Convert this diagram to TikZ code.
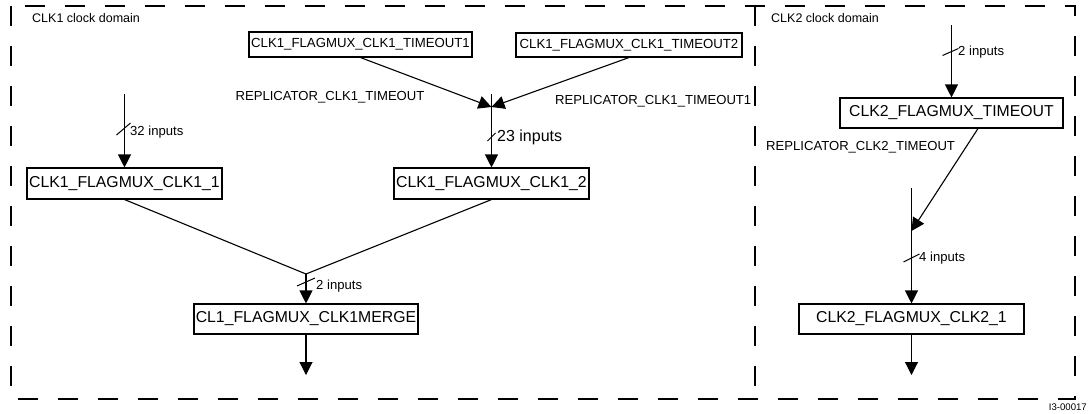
\documentclass[tikz,border=0pt]{standalone}
\usepackage{fontspec}
\setmainfont{Liberation Sans}
\usetikzlibrary{arrows.meta}
\tikzset{
  frame/.style={line width=1.3pt, dash pattern=on 20pt off 20pt},
  conn/.style={line width=1.1pt},
  arr/.style={conn, -{Triangle[width=13pt,length=13pt]}},
  bigbox/.style={draw, line width=1.1pt, inner sep=0pt, font=\fontsize{15.8}{18}\selectfont},
  smallbox/.style={draw, line width=1.1pt, inner sep=0pt, font=\fontsize{13.2}{15}\selectfont},
  lbl/.style={inner sep=0pt, font=\fontsize{13.1}{15}\selectfont},
  slash/.style={line width=1pt},
}
\begin{document}
\begin{tikzpicture}[x=1pt,y=-1pt]
\useasboundingbox (0,0) rectangle (1088,413);
% frames
\draw[frame] (11,6) rectangle (1075,399);
\draw[frame] (755,6) -- (755,399);
\node[lbl, anchor=west, font=\fontsize{12.5}{14}\selectfont] (d1) at (32,18) {CLK1 clock domain};
\node[lbl, anchor=west, font=\fontsize{12.5}{14}\selectfont] (d2) at (771,18) {CLK2 clock domain};
\node[lbl, anchor=east, font=\fontsize{9.6}{11}\selectfont] (fig) at (1087,407.5) {I3-00017};

% boxes
\node[smallbox, minimum width=223pt, minimum height=25pt] (t1) at (360.5,44.5) {CLK1\_FLAGMUX\_CLK1\_TIMEOUT1};
\node[smallbox, minimum width=226pt, minimum height=24pt] (t2) at (629,45) {CLK1\_FLAGMUX\_CLK1\_TIMEOUT2};
\node[bigbox, minimum width=195pt, minimum height=31pt] (m1) at (124.5,183.5) {CLK1\_FLAGMUX\_CLK1\_1};
\node[bigbox, minimum width=195pt, minimum height=31pt] (m2) at (491.5,183.5) {CLK1\_FLAGMUX\_CLK1\_2};
\node[bigbox, minimum width=224pt, minimum height=30pt] (mg) at (306,319) {CL1\_FLAGMUX\_CLK1MERGE};
\node[bigbox, minimum width=223pt, minimum height=30pt] (c2t) at (951.5,113) {CLK2\_FLAGMUX\_TIMEOUT};
\node[bigbox, minimum width=225pt, minimum height=30pt] (c21) at (911.5,319) {CLK2\_FLAGMUX\_CLK2\_1};

% replicator labels
\node[lbl] (r1) at (330,97) {REPLICATOR\_CLK1\_TIMEOUT};
\node[lbl, anchor=west] (r2) at (555,101) {REPLICATOR\_CLK1\_TIMEOUT1};
\node[lbl, anchor=west] (r3) at (766,147) {REPLICATOR\_CLK2\_TIMEOUT};

% coordinates
\coordinate (in1) at (124.5,94);
\coordinate (j1top) at (491.5,94);
\coordinate (j1) at (491.5,107);
\coordinate (j2) at (306,274);
\coordinate (out1) at (306,375);
\coordinate (in3) at (951.5,25);
\coordinate (j3top) at (911.5,188);
\coordinate (j3) at (911.5,231);
\coordinate (out2) at (911.5,375);
\coordinate (s1) at (124.5,130);
\coordinate (s2) at (491.5,137);
\coordinate (s3) at (306,282);
\coordinate (s4) at (951.5,52);
\coordinate (s5) at (911.5,258);

% CLK1 connectors
\draw[arr] (in1) -- (m1.north);
\draw[arr] (t1.south) -- (j1);
\draw[arr] (t2.south) -- (j1);
\draw[arr] (j1top) -- (m2.north);
\draw[conn] (m1.south) -- (j2);
\draw[conn] (m2.south) -- (j2);
\draw[arr] (j2) -- (mg.north);
\draw[arr] (mg.south) -- (out1);

% CLK2 connectors
\draw[arr] (in3) -- (c2t.north);
\draw[arr] ([xshift=26.5pt]c2t.south) -- (j3);
\draw[arr] (j3top) -- (c21.north);
\draw[arr] (c21.south) -- (out2);

% bus slashes
\draw[slash] ([shift={(-8,5)}]s1) -- ([shift={(6,-7)}]s1);
\draw[slash] ([shift={(-4,4)}]s2) -- ([shift={(4,-4)}]s2);
\draw[slash] ([shift={(-9,4)}]s3) -- ([shift={(9,-4)}]s3);
\draw[slash] ([shift={(-9,3.5)}]s4) -- ([shift={(7,-3.5)}]s4);
\draw[slash] ([shift={(-8,4)}]s5) -- ([shift={(8,-4)}]s5);

% bus labels
\node[lbl, anchor=west] (l1) at (130,132) {32 inputs};
\node[lbl, anchor=west, font=\fontsize{16}{18}\selectfont] (l2) at (497,137) {23 inputs};
\node[lbl, anchor=west] (l3) at (316,286) {2 inputs};
\node[lbl, anchor=west] (l4) at (958,52) {2 inputs};
\node[lbl, anchor=west] (l5) at (919,258) {4 inputs};
\end{tikzpicture}
\end{document}
